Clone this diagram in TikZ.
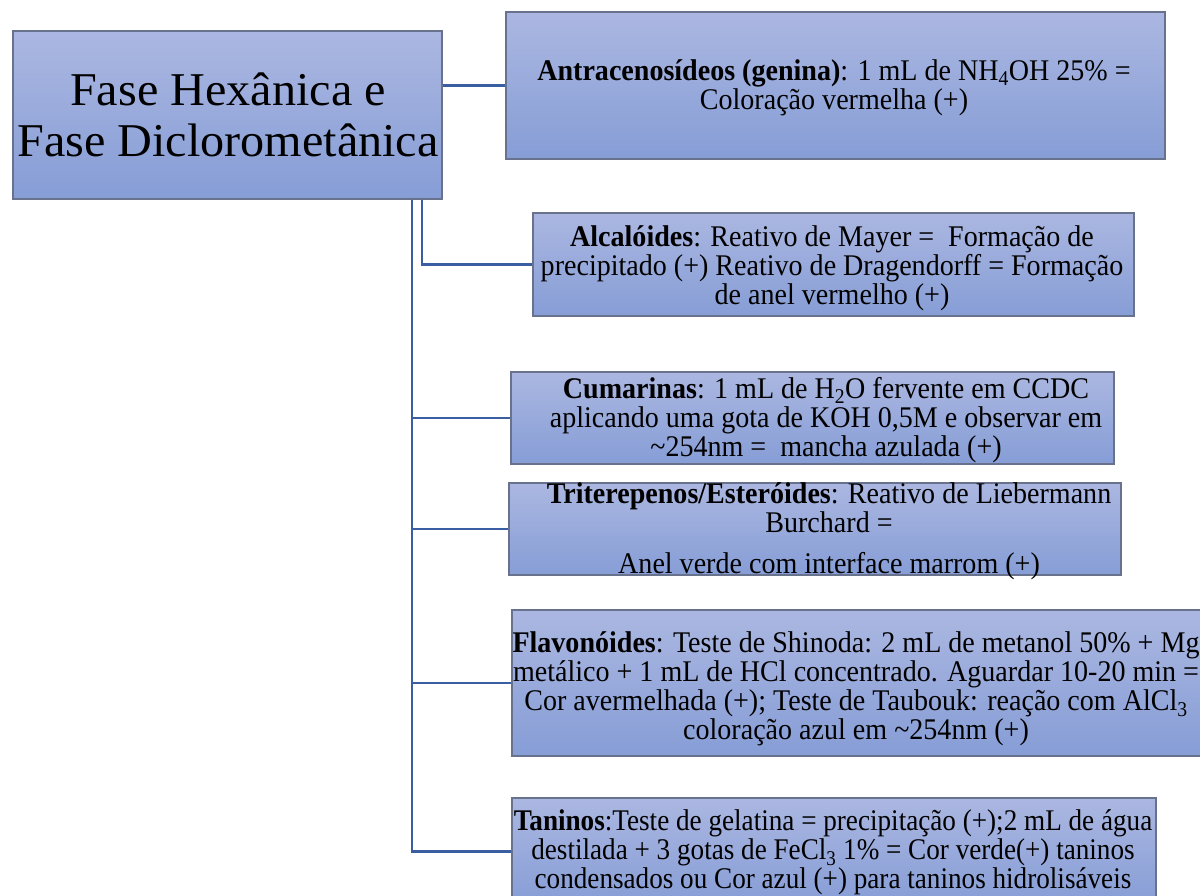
\documentclass[tikz,border=0pt]{standalone}
\usepackage{fontspec}
\setmainfont{Liberation Serif}[FakeStretch=1.025]
\newfontfamily\bodyfont{Liberation Serif}[FakeStretch=0.935]
\newfontfamily\bodyfontn{Liberation Serif}[FakeStretch=0.905]
\definecolor{boxtop}{RGB}{171,183,225}
\definecolor{boxbot}{RGB}{134,157,214}
\definecolor{boxborder}{RGB}{105,114,140}
\definecolor{conncol}{RGB}{58,94,162}
\begin{document}
\begin{tikzpicture}[x=1pt,y=-1pt,
  box/.style={draw=boxborder, line width=1.2pt, top color=boxtop, bottom color=boxbot, inner sep=0pt},
  txt/.style={align=center, inner sep=0pt, font=\bodyfont\fontsize{30}{29}\selectfont},
  txtn/.style={align=center, inner sep=0pt, font=\bodyfontn\fontsize{30}{29}\selectfont},
  maintxt/.style={align=center, inner sep=0pt, font=\fontsize{47}{51}\selectfont},
  conn/.style={draw=conncol, line width=2.6pt}]
\useasboundingbox (0,0) rectangle (1200,895);
% boxes
\node[box, minimum width=429pt, minimum height=168pt] (m) at (227.5,115) {};
\node[box, minimum width=659pt, minimum height=147pt] (b1) at (835.5,85.5) {};
\node[box, minimum width=601pt, minimum height=103pt] (b2) at (833.5,264.5) {};
\node[box, minimum width=603pt, minimum height=92pt] (b3) at (812.5,418) {};
\node[box, minimum width=612pt, minimum height=92pt] (b4) at (815,529) {};
\node[box, minimum width=698pt, minimum height=146pt] (b5) at (861,683) {};
\node[box, minimum width=644pt, minimum height=107pt] (b6) at (834,851.5) {};
% texts
\node[maintxt] (mt) at (228,115) {Fase Hexânica e\\Fase Diclorometânica};
\node[txt] (t1) at (834,88) {\textbf{Antracenosídeos (genina)}: 1 mL de NH\textsubscript{4}OH 25\% =\\Coloração vermelha (+)};
\node[txt] (t2) at (832,268) {\textbf{Alcalóides}: Reativo de Mayer =~ Formação de\\precipitado (+) Reativo de Dragendorff = Formação\\de anel vermelho (+)};
\node[txt] (t3) at (826,420) {\textbf{Cumarinas}: 1 mL de H\textsubscript{2}O fervente em CCDC\\aplicando uma gota de KOH 0,5M e observar em\\\textasciitilde254nm =~ mancha azulada (+)};
\node[txt] (t4) at (829,531) {\textbf{Triterepenos/Esteróides}: Reativo de Liebermann\\Burchard =\\[12pt]Anel verde com interface marrom (+)};
\node[txt] (t5) at (856,689) {\textbf{Flavonóides}: Teste de Shinoda: 2 mL de metanol 50\% + Mg\\metálico + 1 mL de HCl concentrado. Aguardar 10-20 min =\\Cor avermelhada (+); Teste de Taubouk: reação com AlCl\textsubscript{3}\\coloração azul em \textasciitilde254nm (+)};
\node[txtn] (t6) at (833,852.5) {\textbf{Taninos}:Teste de gelatina = precipitação (+);2 mL de água\\destilada + 3 gotas de FeCl\textsubscript{3} 1\% = Cor verde(+) taninos\\condensados ou Cor azul (+) para taninos hidrolisáveis};
% connectors
\coordinate (ta) at (422,0);
\coordinate (tb) at (412,0);
\draw[conn] (m.east |- b1.west) -- (b1.west);
\draw[conn] (m.south -| ta) -- (ta |- b2.west) -- (b2.west);
\draw[conn] (m.south -| tb) -- (tb |- b6.west) -- (b6.west);
\draw[conn] (tb |- b3.west) -- (b3.west);
\draw[conn] (tb |- b4.west) -- (b4.west);
\draw[conn] (tb |- b5.west) -- (b5.west);
\end{tikzpicture}
\end{document}
